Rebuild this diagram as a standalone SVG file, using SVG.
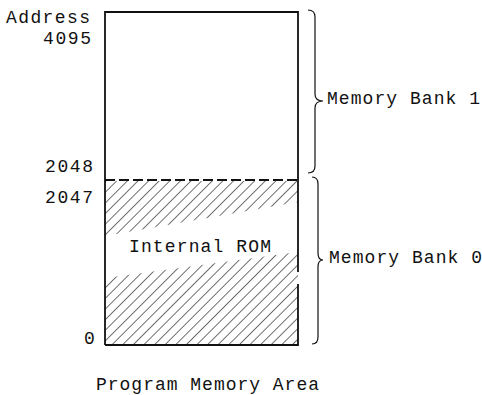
<svg xmlns="http://www.w3.org/2000/svg" width="482" height="395" viewBox="0 0 482 395">
<style>
text{font-family:"Liberation Mono","Courier New",monospace;font-size:18px;fill:#111}
.ln{stroke:#111;fill:none;stroke-width:1.8}
.br{stroke:#111;fill:none;stroke-width:1.2}
.hatch{stroke:#111;stroke-width:1.2}
</style>
<defs>
<pattern id="h" width="7.5" height="7.5" patternUnits="userSpaceOnUse" patternTransform="rotate(45)">
<line class="hatch" x1="0" y1="0" x2="0" y2="7.5"/>
</pattern>
</defs>
<g id="memory-box">
<polygon points="105,181 298,181 298,202 105,236" fill="url(#h)"/>
<polygon points="105,278 298,252 298,345 105,345" fill="url(#h)"/>
<path class="ln" d="M105,345 L105,12 L298,12 L298,272 M298,284 L298,345 L105,345"/>
<line class="ln" x1="105" y1="180" x2="298" y2="180" stroke-dasharray="10,4"/>
<text x="129" y="252" textLength="142" lengthAdjust="spacing">Internal ROM</text>
</g>
<g id="addresses">
<text x="6" y="23" textLength="84" lengthAdjust="spacing">Address</text>
<text x="43" y="44" textLength="48" lengthAdjust="spacing">4095</text>
<text x="45" y="172" textLength="48" lengthAdjust="spacing">2048</text>
<text x="45" y="203" textLength="48" lengthAdjust="spacing">2047</text>
<text x="84" y="344">0</text>
</g>
<g id="bank1">
<path class="br" d="M308,10 Q315,10 315,17 L315,94 Q315,101 323,101 Q315,101 315,108 L315,166 Q315,173 308,173"/>
<text x="327" y="104" textLength="153" lengthAdjust="spacing">Memory Bank 1</text>
</g>
<g id="bank0">
<path class="br" d="M312,177 Q318,177 318,184 L318,253 Q318,260 323,260 Q318,260 318,267 L318,337 Q318,344 312,344"/>
<text x="329" y="263" textLength="153" lengthAdjust="spacing">Memory Bank 0</text>
</g>
<g id="caption">
<text x="96" y="390" textLength="223" lengthAdjust="spacing">Program Memory Area</text>
</g>
</svg>
